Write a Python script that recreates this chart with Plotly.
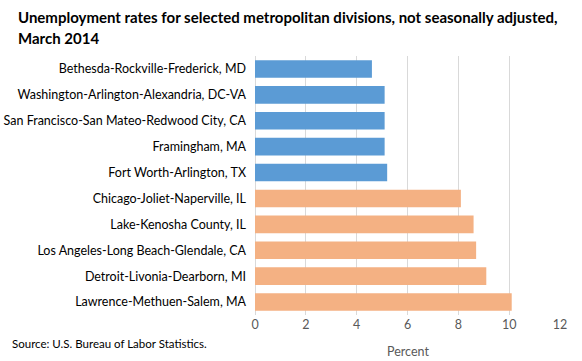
import plotly.graph_objects as go

low_divisions = [
    "Bethesda-Rockville-Frederick, MD",
    "Washington-Arlington-Alexandria, DC-VA",
    "San Francisco-San Mateo-Redwood City, CA",
    "Framingham, MA",
    "Fort Worth-Arlington, TX",
]
low_rates = [4.6, 5.1, 5.1, 5.1, 5.2]

high_divisions = [
    "Chicago-Joliet-Naperville, IL",
    "Lake-Kenosha County, IL",
    "Los Angeles-Long Beach-Glendale, CA",
    "Detroit-Livonia-Dearborn, MI",
    "Lawrence-Methuen-Salem, MA",
]
high_rates = [8.1, 8.6, 8.7, 9.1, 10.1]

x_ticks = [0, 2, 4, 6, 8, 10, 12]

font_family = "Lato, 'Open Sans', sans-serif"

L, R, T, B = 255, 22, 56, 46
PW = 582 - L - R

fig = go.Figure()
fig.add_trace(go.Bar(
    x=low_rates, y=low_divisions, orientation="h",
    marker=dict(color="#5B9BD5", line=dict(width=0)),
    showlegend=False, hoverinfo="x+y",
))
fig.add_trace(go.Bar(
    x=high_rates, y=high_divisions, orientation="h",
    marker=dict(color="#F4B183", line=dict(width=0)),
    showlegend=False, hoverinfo="x+y",
))

fig.update_layout(
    width=582, height=361,
    margin=dict(l=L, r=R, t=T, b=B, autoexpand=False),
    paper_bgcolor="white", plot_bgcolor="white",
    bargap=0.32,
    font=dict(family=font_family, size=12.5, color="#000000"),
    xaxis=dict(
        range=[0, 12], tickvals=x_ticks, ticktext=[str(v) for v in x_ticks],
        showgrid=True, gridcolor="#D9D9D9", gridwidth=1,
        zeroline=True, zerolinecolor="#D9D9D9", zerolinewidth=1,
        showline=False, ticks="", fixedrange=True, automargin=False,
        tickfont=dict(color="#595959", size=12.5),
    ),
    yaxis=dict(
        categoryorder="array", categoryarray=low_divisions + high_divisions,
        autorange="reversed", showgrid=False, showline=False, ticks="",
        ticklabelstandoff=8, automargin=False, fixedrange=True,
        tickfont=dict(color="#000000", size=12.5),
    ),
    annotations=[
        dict(text="<b>Unemployment rates for selected metropolitan divisions, not seasonally adjusted,</b>",
             xref="paper", yref="paper", x=(16 - L) / PW, y=1, xanchor="left", yanchor="middle",
             yshift=T - 17, showarrow=False, align="left",
             font=dict(family=font_family, size=15, color="#000000")),
        dict(text="<b>March 2014</b>",
             xref="paper", yref="paper", x=(16 - L) / PW, y=1, xanchor="left", yanchor="middle",
             yshift=T - 38, showarrow=False, align="left",
             font=dict(family=font_family, size=15, color="#000000")),
        dict(text="Percent",
             xref="paper", yref="paper", x=0.5, y=0, xanchor="center", yanchor="middle",
             yshift=-(351 - (361 - B)), showarrow=False,
             font=dict(family=font_family, size=12.5, color="#595959")),
        dict(text="Source: U.S. Bureau of Labor Statistics.",
             xref="paper", yref="paper", x=(10 - L) / PW, y=0, xanchor="left", yanchor="middle",
             yshift=-(343 - (361 - B)), showarrow=False, align="left",
             font=dict(family=font_family, size=11.5, color="#000000")),
    ],
)

fig.write_html(
    "out.html",
    config={"displayModeBar": False},
    post_script="document.body.style.margin='0';document.body.style.padding='0';",
)
